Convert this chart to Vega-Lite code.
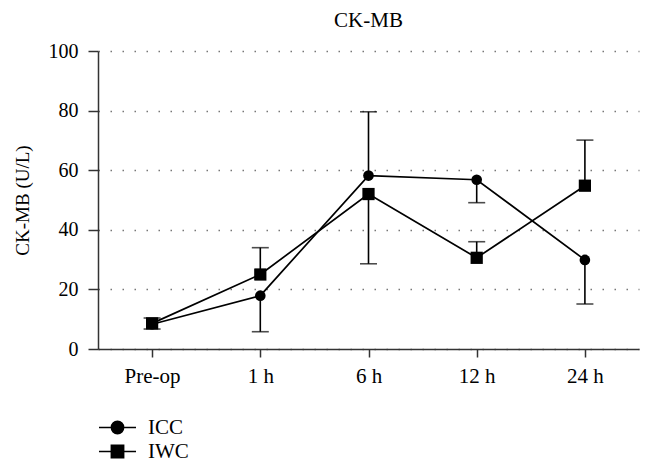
{
  "$schema": "https://vega.github.io/schema/vega-lite/v6.json",
  "width": 541,
  "height": 298,
  "autosize": {"type": "none"},
  "padding": {"left": 98, "top": 51, "right": 13, "bottom": 124},
  "title": {"text": "CK-MB", "font": "Liberation Serif", "fontSize": 21, "fontWeight": "normal", "color": "#000", "offset": 10, "anchor": "middle"},
  "config": {
    "view": {"stroke": null},
    "axis": {"labelFont": "Liberation Serif", "titleFont": "Liberation Serif", "labelColor": "#000", "titleColor": "#000", "domainColor": "#333", "tickColor": "#333", "domainWidth": 1.5, "tickWidth": 1.5}
  },
  "data": {"values": [
    {"time": "Pre-op", "group": "ICC", "mean": 8.3, "err": 6.7},
    {"time": "1 h", "group": "ICC", "mean": 17.9, "err": 5.8},
    {"time": "6 h", "group": "ICC", "mean": 58.2, "err": 79.6},
    {"time": "12 h", "group": "ICC", "mean": 56.8, "err": 49.1},
    {"time": "24 h", "group": "ICC", "mean": 29.9, "err": 15.1},
    {"time": "Pre-op", "group": "IWC", "mean": 8.6, "err": 10.4},
    {"time": "1 h", "group": "IWC", "mean": 25.0, "err": 34.0},
    {"time": "6 h", "group": "IWC", "mean": 52.0, "err": 28.6},
    {"time": "12 h", "group": "IWC", "mean": 30.6, "err": 36.0},
    {"time": "24 h", "group": "IWC", "mean": 54.8, "err": 70.1}
  ]},
  "encoding": {
    "x": {"field": "time", "type": "nominal", "sort": ["Pre-op", "1 h", "6 h", "12 h", "24 h"],
      "scale": {"type": "point", "padding": 0.5},
      "axis": {"title": null, "labelAngle": 0, "labelFontSize": 21, "tickSize": 8, "labelPadding": 8, "grid": false}},
    "y": {"field": "mean", "type": "quantitative",
      "scale": {"domain": [0, 100], "nice": false, "zero": true},
      "axis": {"title": "CK-MB (U/L)", "titleFontSize": 19, "titleFontWeight": "normal", "titlePadding": 16, "values": [0, 20, 40, 60, 80, 100], "labelFontSize": 20, "tickSize": 10, "labelPadding": 10,
        "grid": true, "gridDash": [1.5, 10.5], "gridColor": "#777", "gridWidth": 1.5}}
  },
  "layer": [
    {"mark": {"type": "rule", "color": "#000", "strokeWidth": 1.6},
      "encoding": {"y2": {"field": "err"}}},
    {"mark": {"type": "tick", "color": "#000", "thickness": 1.6, "size": 17, "orient": "horizontal"},
      "encoding": {"y": {"field": "err", "type": "quantitative"}}},
    {"mark": {"type": "line", "color": "#000", "strokeWidth": 1.7},
      "encoding": {"detail": {"field": "group"}}},
    {"transform": [{"filter": "datum.group === 'ICC'"}],
      "mark": {"type": "point", "shape": "circle", "filled": true, "color": "#000", "opacity": 1, "size": 113}},
    {"transform": [{"filter": "datum.group === 'IWC'"}],
      "mark": {"type": "point", "shape": "square", "filled": true, "color": "#000", "opacity": 1, "size": 150}},
    {"transform": [{"filter": "datum.mean < -1000"}],
      "mark": {"type": "point", "filled": true, "color": "#000", "opacity": 1, "size": 609, "strokeWidth": 1.5, "stroke": "#000"},
      "encoding": {"shape": {"field": "group", "type": "nominal",
        "scale": {"domain": ["ICC", "IWC"], "range": ["M-1.5,0H1.5M-0.5,0A0.5,0.5,0,1,1,0.5,0A0.5,0.5,0,1,1,-0.5,0Z", "M-1.5,0H1.5M-0.5,-0.5H0.5V0.5H-0.5Z"]},
        "legend": {"title": null, "orient": "none", "legendX": 6, "legendY": 363, "padding": 0, "symbolSize": 609, "labelFont": "Liberation Serif", "labelFontSize": 21, "labelColor": "#000", "labelOffset": 17, "rowPadding": 0,
          "encode": {"symbols": {"update": {"stroke": {"value": "#000"}, "strokeWidth": {"value": 1.6}, "fill": {"value": "#000"}, "opacity": {"value": 1}}}}}}}}
  ]
}
